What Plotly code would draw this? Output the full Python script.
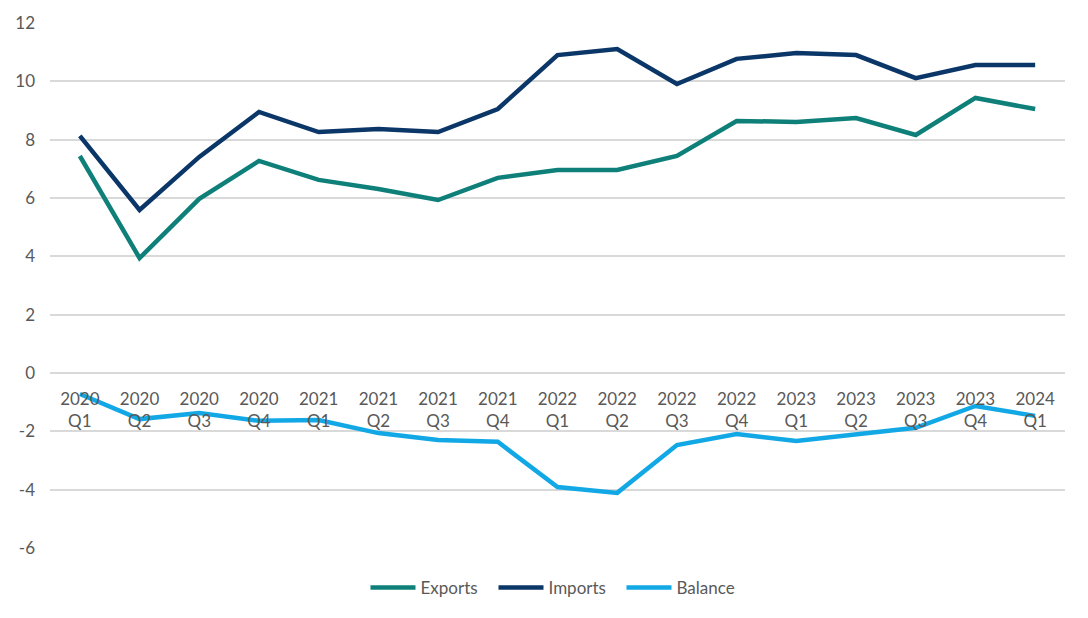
import plotly.graph_objects as go

quarters = ["2020<br>Q1", "2020<br>Q2", "2020<br>Q3", "2020<br>Q4",
            "2021<br>Q1", "2021<br>Q2", "2021<br>Q3", "2021<br>Q4",
            "2022<br>Q1", "2022<br>Q2", "2022<br>Q3", "2022<br>Q4",
            "2023<br>Q1", "2023<br>Q2", "2023<br>Q3", "2023<br>Q4",
            "2024<br>Q1"]
exports = [7.44, 3.94, 5.97, 7.27, 6.62, 6.31, 5.93, 6.69, 6.96, 6.96,
           7.44, 8.64, 8.61, 8.74, 8.16, 9.43, 9.05]
imports = [8.13, 5.59, 7.41, 8.95, 8.26, 8.37, 8.26, 9.05, 10.90, 11.11,
           9.91, 10.77, 10.97, 10.90, 10.11, 10.56, 10.56]
balance = [-0.72, -1.58, -1.37, -1.64, -1.61, -2.06, -2.30, -2.36, -3.91, -4.11,
           -2.47, -2.09, -2.33, -2.12, -1.88, -1.13, -1.47]
y_ticks = [-6, -4, -2, 0, 2, 4, 6, 8, 10, 12]
y_tick_labels = ["-6", "-4", "-2", "0", "2", "4", "6", "8", "10", "12"]

fig = go.Figure()
series = [("Exports", exports, "#0E8079"), ("Imports", imports, "#0B3668"),
          ("Balance", balance, "#12A8E6")]
for name, vals, col in series:
    fig.add_trace(go.Scatter(x=quarters, y=vals, name=name, mode="lines",
                             line=dict(color=col, width=4.5)))

font_family = "Lato, 'Open Sans', sans-serif"
fig.update_layout(
    width=1080, height=610,
    margin=dict(l=42, r=23, t=15, b=70, autoexpand=False),
    paper_bgcolor="white", plot_bgcolor="white",
    font=dict(family=font_family, size=17, color="#595959"),
    showlegend=True,
    legend=dict(orientation="h", x=0.5, xanchor="center", y=-0.076, yanchor="middle",
                font=dict(size=17, color="#595959"), tracegroupgap=0,
                itemwidth=45, entrywidth=68, entrywidthmode="pixels"),
    xaxis=dict(anchor="free", position=1/3, showgrid=False, showline=False,
               ticks="", tickfont=dict(size=17, color="#595959"),
               ticklabelstandoff=14,
               range=[-0.5, len(quarters) - 0.5], fixedrange=True),
    yaxis=dict(range=[-6, 12], tickvals=y_ticks, ticktext=y_tick_labels,
               showgrid=True, gridcolor="#D9D9D9",
               gridwidth=1.5, zeroline=True, zerolinecolor="#D9D9D9", zerolinewidth=1.5,
               showline=False, ticks="", tickfont=dict(size=17, color="#595959"),
               ticklabelstandoff=14),
)

fig.write_html("out.html")
